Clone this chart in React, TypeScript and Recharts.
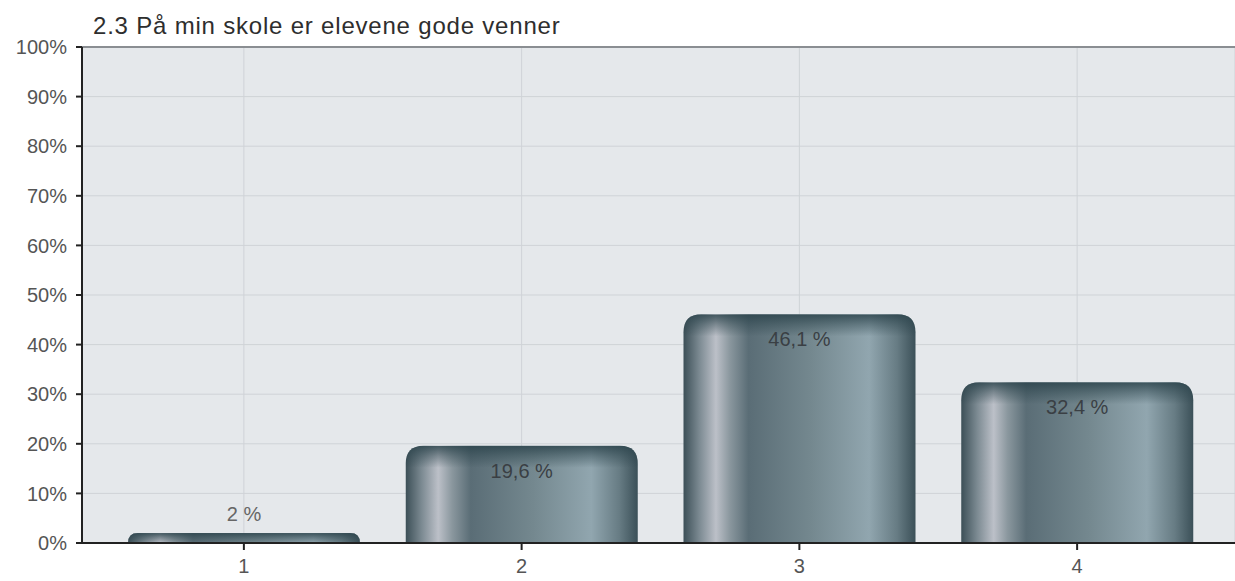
import { BarChart, Bar, XAxis, YAxis, CartesianGrid, ReferenceLine, LabelList } from 'recharts';

const categories = ['1', '2', '3', '4'];
const shares = [2, 19.6, 46.1, 32.4];
const yTicks = [0, 10, 20, 30, 40, 50, 60, 70, 80, 90, 100];
const title = '2.3 På min skole er elevene gode venner';

const data = categories.map((c, i) => ({ cat: c, value: shares[i] }));

const font = '"Liberation Sans", Arial, sans-serif';
const fmt = (v: number) => `${String(v).replace('.', ',')} %`;

const CylinderBar = (props: any) => {
  const { x, y, width, height } = props;
  if (!height || height <= 0) return null;
  const r = Math.min(18, height);
  const d = `M${x},${y + height} L${x},${y + r} Q${x},${y} ${x + r},${y} L${x + width - r},${y} Q${x + width},${y} ${x + width},${y + r} L${x + width},${y + height} Z`;
  const cap = Math.min(22, height);
  return (
    <g>
      <path d={d} fill="url(#barGrad)" />
      <clipPath id={`clip-${Math.round(x)}`}>
        <path d={d} />
      </clipPath>
      <rect
        x={x}
        y={y}
        width={width}
        height={cap}
        fill="url(#capGrad)"
        clipPath={`url(#clip-${Math.round(x)})`}
      />
    </g>
  );
};

const ValueLabel = (props: any) => {
  const { x, y, width, value } = props;
  const small = value < 5;
  return (
    <text
      x={x + width / 2}
      y={small ? y - 12 : y + 32}
      textAnchor="middle"
      fontSize={20}
      fontFamily={font}
      fill={small ? '#666' : '#3a3f44'}
    >
      {fmt(value)}
    </text>
  );
};

export default function App() {
  return (
    <div style={{ position: 'absolute', left: 0, top: 0, width: 1235, height: 581, background: '#fff' }}>
      <div
        style={{
          position: 'absolute',
          left: 93,
          top: 14,
          fontFamily: font,
          fontSize: 24,
          lineHeight: '24px',
          letterSpacing: 0.8,
          color: '#2e2e2e',
          whiteSpace: 'nowrap',
        }}
      >
        {title}
      </div>
      <BarChart
        width={1235}
        height={581}
        data={data}
        margin={{ top: 47, right: 0, bottom: 0, left: 0 }}
        barCategoryGap={23}
      >
        <defs>
          <linearGradient id="barGrad" x1="0" y1="0" x2="1" y2="0">
            <stop offset="0" stopColor="#3c4f57" />
            <stop offset="0.07" stopColor="#7d8b93" />
            <stop offset="0.14" stopColor="#bcc0c8" />
            <stop offset="0.2" stopColor="#8a979e" />
            <stop offset="0.28" stopColor="#5a6d76" />
            <stop offset="0.55" stopColor="#74888f" />
            <stop offset="0.8" stopColor="#91a6af" />
            <stop offset="0.92" stopColor="#677c84" />
            <stop offset="1" stopColor="#3b5058" />
          </linearGradient>
          <linearGradient id="capGrad" x1="0" y1="0" x2="0" y2="1">
            <stop offset="0" stopColor="#2c444c" stopOpacity="0.85" />
            <stop offset="0.45" stopColor="#2c444c" stopOpacity="0.45" />
            <stop offset="1" stopColor="#2c444c" stopOpacity="0" />
          </linearGradient>
        </defs>
        <CartesianGrid stroke="#cfd3d7" fill="#e5e8eb" />
        <XAxis
          dataKey="cat"
          padding={{ left: 23, right: 19 }}
          height={38}
          tickSize={7}
          tickMargin={9}
          tick={{ fontSize: 20, fontFamily: font, fill: '#555' }}
          axisLine={{ stroke: '#222', strokeWidth: 2 }}
          tickLine={{ stroke: '#222', strokeWidth: 2 }}
        />
        <YAxis
          domain={[0, 100]}
          ticks={yTicks}
          interval={0}
          width={82}
          tickSize={6}
          tickMargin={9}
          tickFormatter={(v: number) => `${v}%`}
          tick={{ fontSize: 20, fontFamily: font, fill: '#555' }}
          axisLine={{ stroke: '#222', strokeWidth: 2 }}
          tickLine={{ stroke: '#222', strokeWidth: 2 }}
        />
        <ReferenceLine y={100} stroke="#8a8e92" strokeWidth={2} />
        <Bar dataKey="value" shape={<CylinderBar />} isAnimationActive={false}>
          <LabelList dataKey="value" content={<ValueLabel />} />
        </Bar>
      </BarChart>
    </div>
  );
}
